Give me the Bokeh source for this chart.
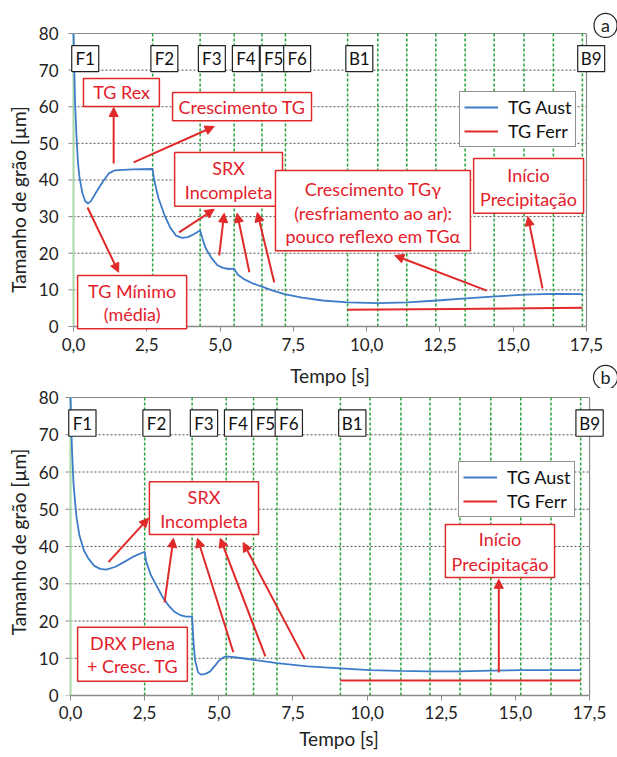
from bokeh.plotting import figure
from bokeh.layouts import column
from bokeh.models import (Range1d, FixedTicker, CustomJSTickFormatter, BoxAnnotation,
                          Label, Arrow, NormalHead, Legend, LegendItem)
from bokeh.embed import file_html
from bokeh.resources import INLINE

# ---------------- data ----------------
x_ticks = [0, 2.5, 5.0, 7.5, 10.0, 12.5, 15.0, 17.5]
y_ticks = [0, 10, 20, 30, 40, 50, 60, 70, 80]
stand_names = ["F1", "F2", "F3", "F4", "F5", "F6", "B1", "B2", "B3", "B4", "B5", "B6", "B7", "B8", "B9"]
shown_stands = ["F1", "F2", "F3", "F4", "F5", "F6", "B1", "B9"]

# panel (a)
stands_a = [0, 2.7, 4.32, 5.48, 6.43, 7.23, 9.35, 10.38, 11.37, 12.36, 13.36, 14.35, 15.37, 16.37, 17.36]
t_aust_a = [0, 0.05, 0.1, 0.15, 0.2, 0.3, 0.4, 0.5, 0.6, 0.8, 1.0, 1.2, 1.4, 2.0, 2.7,
            2.75, 2.9, 3.1, 3.3, 3.5, 3.7, 3.9, 4.1, 4.32, 4.4, 4.5, 4.7, 4.9, 5.1, 5.3, 5.48,
            5.6, 5.8, 6.1, 6.43, 6.8, 7.23, 7.8, 8.5, 9.35, 10.4, 11.4, 12.4, 13.4, 14.4, 15.4, 16.4, 17.36]
g_aust_a = [80, 62, 52, 45, 41, 36.5, 34.2, 33.6, 34.3, 37, 39.5, 41.8, 42.6, 42.9, 43.0,
            40, 35, 30.5, 27, 24.8, 24.2, 24.4, 25.2, 26.2, 24, 21.5, 18.8, 16.8, 16.0, 15.7, 15.8,
            14.2, 13.0, 11.8, 10.9, 9.8, 8.8, 7.9, 7.1, 6.6, 6.4, 6.6, 7.1, 7.7, 8.2, 8.7, 8.9, 8.85]
t_ferr_a = [9.35, 13.0, 17.36]
g_ferr_a = [4.6, 4.8, 5.1]

# panel (b)
stands_b = [0, 2.5, 4.1, 5.25, 6.17, 6.96, 9.1, 10.1, 11.14, 12.12, 13.13, 14.17, 15.18, 16.2, 17.2]
t_aust_b = [0, 0.05, 0.1, 0.2, 0.3, 0.45, 0.6, 0.8, 1.0, 1.2, 1.5, 1.8, 2.1, 2.5,
            2.55, 2.7, 2.9, 3.1, 3.3, 3.5, 3.7, 3.9, 4.1,
            4.15, 4.2, 4.3, 4.4, 4.55, 4.7, 4.85, 5.0, 5.15, 5.25,
            5.6, 6.17, 6.96, 8.0, 9.1, 10.1, 11.1, 12.1, 13.1, 14.2, 15.2, 16.2, 17.2]
g_aust_b = [80, 66, 57, 48, 43, 39, 36.8, 34.8, 34.0, 33.8, 34.5, 35.8, 37.2, 38.6,
            36, 32.5, 29.5, 26.5, 24.2, 22.5, 21.6, 21.2, 21.2,
            14, 9.5, 6.2, 5.6, 5.8, 6.4, 7.8, 9.3, 10.2, 10.5,
            10.2, 9.6, 8.7, 7.8, 7.3, 6.8, 6.6, 6.5, 6.5, 6.7, 6.8, 6.8, 6.8]
t_ferr_b = [9.1, 13.0, 17.2]
g_ferr_b = [4.0, 4.0, 4.0]

# ---------------- styles ----------------
FONT = "Lato"
BLUE = "#3d7cc9"
RED = "#e02a2a"
RED_TXT = "#e4202a"
GREEN = "#2aa03c"
LIGHT_GREEN = "#a8d8a8"
FRAME = "#8a8a8a"


def make_panel(height, borders, xr, yr, px_per_s, stands, t_a, g_a, t_f, g_f, legend_loc, inner):
    left, right, top, bottom = borders
    p = figure(width=617, height=height, x_range=Range1d(*xr), y_range=Range1d(*yr),
               output_backend="svg", toolbar_location=None,
               min_border_left=left, min_border_right=right,
               min_border_top=top, min_border_bottom=bottom)
    p.background_fill_color = "white"
    p.border_fill_color = "white"
    p.outline_line_color = None

    # axes
    p.xaxis.ticker = FixedTicker(ticks=x_ticks)
    p.xaxis.formatter = CustomJSTickFormatter(code="return tick.toFixed(1).replace('.', ',');")
    p.xaxis.bounds = (x_ticks[0], x_ticks[-1])
    p.yaxis.ticker = FixedTicker(ticks=y_ticks)
    p.yaxis.bounds = (y_ticks[0], y_ticks[-1])
    for ax in (p.xaxis[0], p.yaxis[0]):
        ax.major_label_text_font = FONT
        ax.major_label_text_font_size = "17px"
        ax.major_label_text_color = "#222222"
        ax.axis_label_text_font = FONT
        ax.axis_label_text_font_size = "19px"
        ax.axis_label_text_font_style = "normal"
        ax.axis_label_text_color = "#222222"
        ax.minor_tick_line_color = None
        ax.major_tick_line_color = FRAME
        ax.major_tick_in = 0
        ax.major_tick_out = 5
    p.xaxis.axis_line_color = FRAME
    p.xaxis.axis_line_width = 1.5
    p.yaxis.axis_line_color = None
    p.xaxis.axis_label = "Tempo [s]"
    p.yaxis.axis_label = "Tamanho de grão [µm]"
    if inner:
        # x axis drawn inside the frame at y = 0
        p.xaxis.fixed_location = 0
        p.xaxis.major_label_standoff = 7
        p.xaxis.axis_label_standoff = 9
    else:
        p.xaxis.major_label_standoff = 5
        p.xaxis.axis_label_standoff = 5
    # y tick marks drawn as short segments just left of x = 0
    p.yaxis.major_tick_out = 0
    p.yaxis.major_label_standoff = 2
    p.yaxis.axis_label_standoff = 6
    tick_len = 5 / px_per_s
    p.segment(x0=[-tick_len] * len(y_ticks), y0=y_ticks, x1=[0] * len(y_ticks), y1=y_ticks,
              line_color=FRAME, line_width=1)

    # horizontal dashed grid (only inside the plotting frame)
    p.xgrid.grid_line_color = None
    p.ygrid.grid_line_color = None
    gy = y_ticks[1:-1]
    p.segment(x0=[x_ticks[0]] * len(gy), y0=gy, x1=[x_ticks[-1]] * len(gy), y1=gy,
              line_color="#555555", line_dash="2 2", line_width=1)

    # frame top and right edges
    p.segment(x0=[x_ticks[0], x_ticks[-1]], y0=[y_ticks[-1], y_ticks[0]],
              x1=[x_ticks[-1], x_ticks[-1]], y1=[y_ticks[-1], y_ticks[-1]],
              line_color=FRAME, line_width=1.2)

    # stand lines
    p.segment(x0=stands[:1], y0=[0], x1=stands[:1], y1=[80], line_color=LIGHT_GREEN, line_width=2)
    n = len(stands) - 1
    p.segment(x0=stands[1:], y0=[0] * n, x1=stands[1:], y1=[80] * n,
              line_color=GREEN, line_width=1.5, line_dash="3 2")

    # curves
    r_a = p.line(t_a, g_a, line_color=BLUE, line_width=1.8)
    r_f = p.line(t_f, g_f, line_color=RED, line_width=2)

    legend = Legend(items=[LegendItem(label="TG Aust", renderers=[r_a]),
                           LegendItem(label="TG Ferr", renderers=[r_f])],
                    location=legend_loc)
    legend.label_text_font = FONT
    legend.label_text_font_size = "18px"
    legend.label_text_color = "#111111"
    legend.border_line_color = "#222222"
    legend.border_line_width = 1.5
    legend.background_fill_alpha = 1
    legend.glyph_width = 34
    legend.glyph_height = 18
    legend.label_standoff = 10
    legend.label_height = 18
    legend.padding = 4
    legend.spacing = 2
    legend.margin = 0
    p.add_layout(legend)

    # stand label boxes
    for name, s in zip(stand_names, stands):
        if name not in shown_stands:
            continue
        x0 = s - 0.16 if name == "B9" else s - 0.06
        p.add_layout(BoxAnnotation(left=x0, right=x0 + 0.92, bottom=69.6, top=76.7,
                                   fill_color="white", fill_alpha=1,
                                   line_color="#222222", line_width=1.2, line_alpha=1))
        p.add_layout(Label(x=x0 + 0.46, y=73.1, text=name, text_align="center",
                           text_baseline="middle", text_font=FONT,
                           text_font_size="17px", text_color="#111111"))
    return p


def red_box(p, l, r, b, t, lines, xc, ys):
    p.add_layout(BoxAnnotation(left=l, right=r, bottom=b, top=t,
                               fill_color="white", fill_alpha=1,
                               line_color=RED, line_width=1.5, line_alpha=1))
    for txt, y in zip(lines, ys):
        p.add_layout(Label(x=xc, y=y, text=txt, text_align="center", text_baseline="middle",
                           text_font=FONT, text_font_size="18px", text_color=RED_TXT))


def arrow(p, x0, y0, x1, y1):
    p.add_layout(Arrow(x_start=x0, y_start=y0, x_end=x1, y_end=y1,
                       line_color=RED, line_width=2,
                       end=NormalHead(size=9, fill_color=RED, line_color=RED)))


def circ(p, x, y, txt):
    p.add_layout(Label(x=x, y=y, text=txt, text_align="center", text_baseline="middle",
                       text_font=FONT, text_font_size="18px", text_color="#222222",
                       border_line_color="#222222", border_line_width=1.2,
                       background_fill_color="white", border_radius=12, padding=(7, 1)))


# ---------------- panel (a) ----------------
# frame: page x 60..617, y 10..388 ; x = 0 at page 73, 17.5 at 586 ; y 80 at 33, 0 at 326
pa = make_panel(388, (60, 0, 10, 0), (-0.4435, 18.558), (-16.93, 86.28), 29.31,
                stands_a, t_aust_a, g_aust_a, t_ferr_a, g_ferr_a, (399, 241), True)
arrow(pa, 1.37, 44.5, 1.37, 59.8)
arrow(pa, 2.05, 44.8, 4.8, 54.6)
arrow(pa, 0.48, 32.5, 1.54, 14.8)
arrow(pa, 3.6, 25.7, 4.8, 32.0)
arrow(pa, 4.97, 19.4, 5.14, 30.9)
arrow(pa, 6.0, 14.8, 5.58, 30.9)
arrow(pa, 6.85, 12.0, 6.27, 31.1)
arrow(pa, 14.1, 9.8, 10.96, 19.4)
arrow(pa, 16.0, 10.4, 15.5, 30.0)
red_box(pa, 0.34, 2.93, 60.1, 67.7, ["TG Rex"], 1.64, [63.9])
red_box(pa, 3.38, 8.12, 56.2, 63.9, ["Crescimento TG"], 5.75, [60.0])
red_box(pa, 3.45, 7.13, 32.8, 47.5, ["SRX", "Incompleta"], 5.29, [43.2, 36.6])
red_box(pa, 6.89, 13.54, 20.7, 42.6, ["Crescimento TGγ", "(resfriamento ao ar):", "pouco reflexo em TGα"],
        10.22, [37.6, 31.1, 24.8])
red_box(pa, 13.65, 17.4, 30.9, 45.9, ["Início", "Precipitação"], 15.52, [41.5, 34.9])
red_box(pa, 0.14, 3.86, -0.6, 13.9, ["TG Mínimo", "(média)"], 2.0, [9.8, 3.5])
circ(pa, 18.15, 82.2, "a")
circ(pa, 18.15, -13.9, "b")

# ---------------- panel (b) ----------------
# frame: page x 60..617, y 388..695 ; x = 0 at page 70 ; y 80 at 397, 0 at 695
pb = make_panel(369, (60, 0, 0, 62), (-0.3372, 18.442), (0, 82.42), 29.66,
                stands_b, t_aust_b, g_aust_b, t_ferr_b, g_ferr_b, (398, 178), False)
arrow(pb, 1.28, 35.8, 2.63, 47.6)
arrow(pb, 3.17, 25.0, 3.47, 42.2)
arrow(pb, 5.49, 11.6, 4.28, 42.2)
arrow(pb, 6.57, 10.5, 5.05, 42.2)
arrow(pb, 7.9, 9.7, 5.82, 41.1)
arrow(pb, 14.44, 6.2, 14.44, 31.2)
red_box(pb, 2.66, 6.34, 43.2, 57.4, ["SRX", "Incompleta"], 4.5, [53.3, 46.9])
red_box(pb, 12.64, 16.32, 31.7, 45.9, ["Início", "Precipitação"], 14.48, [41.9, 35.4])
red_box(pb, 0.24, 3.94, 3.8, 18.3, ["DRX Plena", "+ Cresc. TG"], 2.09, [14.2, 8.0])

layout = column(pa, pb, spacing=0)
open("out.html", "w").write(file_html(layout, INLINE))
